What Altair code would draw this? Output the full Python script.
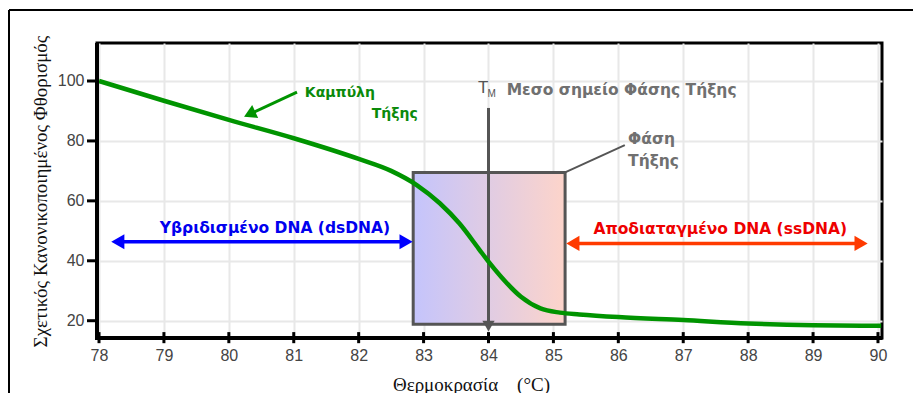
import altair as alt
import pandas as pd

# ---------------- data ----------------
temp = [78, 79, 80, 81, 82, 82.5, 82.9, 83.25, 83.55, 83.85, 84, 84.2, 84.5, 84.8,
        85.1, 85.4, 86, 87, 88, 89, 90.05]
fluor = [100, 93.4, 87.0, 80.9, 74.0, 70.0, 65.2, 59.2, 52.5, 44, 39.7, 34.5, 28, 24.1,
         22.7, 22.1, 21.2, 20.2, 19.1, 18.5, 18.3]
x_ticks = list(range(78, 91))
y_ticks = [20, 40, 60, 80, 100]
x_domain = [77.969, 90.062]
y_domain = [14.23, 112.68]

phase_box_x = [82.84, 85.18]
phase_box_y = [69.5, 18.8]
tm_value = 84.0
tm_line_y = [91.0, 19.5]
tm_head_y = 18.2

ds_arrow_x = [78.29, 82.73]
ds_arrow_y = 46.35
ss_arrow_x = [85.30, 89.74]
ss_arrow_y = 45.8
curve_arrow_x = [81.05, 80.32]
curve_arrow_y = [96.3, 88.95]
phase_leader_x = [85.18, 86.1]
phase_leader_y = [69.5, 78.6]

green_labels = ["Καμπύλη", "Τήξης"]
green_label_x = [81.17, 82.20]
green_label_y = [96.0, 89.0]
gray_labels = ["Μεσο σημείο Φάσης Τήξης", "Φάση", "Τήξης"]
gray_label_x = [84.28, 86.15, 86.15]
gray_label_y = [97.0, 80.6, 73.3]
ds_label = "Υβριδισμένο DNA (dsDNA)"
ds_label_pos = [80.71, 50.9]
ss_label = "Αποδιαταγμένο DNA (ssDNA)"
ss_label_pos = [87.57, 50.6]
tm_label_pos = [83.838, 97.66]
tm_sub_pos = [83.985, 95.6]

x_title = "Θερμοκρασία\u00a0\u00a0\u00a0\u00a0(°C)"
y_title = "Σχετικός Κανονικοποιημένος Φθορισμός"

# ---------------- helpers ----------------
xs = alt.Scale(domain=x_domain, nice=False, zero=False)
ys = alt.Scale(domain=y_domain, nice=False, zero=False)

x_axis = alt.Axis(values=x_ticks, format="d", title=x_title, ticks=False, labelPadding=9,
                  titleX=374, titleY=46)
y_axis = alt.Axis(values=y_ticks, title=y_title, ticks=False, labelPadding=13,
                  titleX=-57, titleY=148, titleAngle=270)


def X(f="x"):
    return alt.X(f"{f}:Q", scale=xs, axis=x_axis)


def Y(f="y"):
    return alt.Y(f"{f}:Q", scale=ys, axis=y_axis)


BOLD = "DejaVu Sans"

curve_df = pd.DataFrame({"x": temp, "y": fluor})

# tick marks: short rules just outside the plot, in data space
y_tick_df = pd.DataFrame({"y": y_ticks, "x": [77.815] * len(y_ticks),
                          "x2": [x_domain[0]] * len(y_ticks)})
y_tick_marks = alt.Chart(y_tick_df).mark_rule(color="black", strokeWidth=3).encode(
    x=X(), x2="x2:Q", y=Y())
x_tick_df = pd.DataFrame({"x": x_ticks, "y": [16.2] * len(x_ticks),
                          "y2": [12.5] * len(x_ticks)})
x_tick_marks = alt.Chart(x_tick_df).mark_rule(color="black", strokeWidth=3).encode(
    x=X(), y=Y(), y2="y2:Q")

gradient = alt.Gradient(gradient="linear",
                        stops=[alt.GradientStop(color="#c4c4fc", offset=0),
                               alt.GradientStop(color="#fdd4ca", offset=1)],
                        x1=0, x2=1, y1=0, y2=0)
box = alt.Chart(pd.DataFrame({"x": [phase_box_x[0]], "x2": [phase_box_x[1]],
                              "y": [phase_box_y[0]], "y2": [phase_box_y[1]]})).mark_rect(
    fill=gradient, stroke="#555555", strokeWidth=3).encode(
    x=X(), x2="x2:Q", y=Y(), y2="y2:Q")

leader = alt.Chart(pd.DataFrame({"x": phase_leader_x, "y": phase_leader_y})).mark_line(
    color="#555555", strokeWidth=2).encode(x=X(), y=Y())

tm_line = alt.Chart(pd.DataFrame({"x": [tm_value], "y": [tm_line_y[0]], "y2": [tm_line_y[1]]})).mark_rule(
    color="#555555", strokeWidth=3).encode(x=X(), y=Y(), y2="y2:Q")
tm_head = alt.Chart(pd.DataFrame({"x": [tm_value], "y": [tm_head_y]})).mark_point(
    shape="triangle-down", filled=True, color="#555555", opacity=1, size=150).encode(x=X(), y=Y())

curve = alt.Chart(curve_df).mark_line(color="#009400", strokeWidth=4.5,
                                      interpolate="monotone").encode(x=X(), y=Y())


def double_arrow(xv, yv, color):
    ln = alt.Chart(pd.DataFrame({"x": [xv[0]], "x2": [xv[1]], "y": [yv]})).mark_rule(
        color=color, strokeWidth=3.5).encode(x=X(), x2="x2:Q", y=Y())
    heads = alt.Chart(pd.DataFrame({"x": xv, "y": [yv, yv],
                                    "s": ["triangle-left", "triangle-right"]})).mark_point(
        filled=True, color=color, opacity=1, size=230).encode(
        x=X(), y=Y(), shape=alt.Shape("s:N", scale=None, legend=None))
    return ln + heads


ds = double_arrow(ds_arrow_x, ds_arrow_y, "#0000ff")
ss = double_arrow(ss_arrow_x, ss_arrow_y, "#ff3a00")

g_arrow_line = alt.Chart(pd.DataFrame({"x": curve_arrow_x, "y": curve_arrow_y})).mark_line(
    color="#009400", strokeWidth=3).encode(x=X(), y=Y())
g_arrow_head = alt.Chart(pd.DataFrame({"x": [curve_arrow_x[1]], "y": [curve_arrow_y[1]]})).mark_point(
    shape="triangle-up", angle=245, filled=True, color="#009400", opacity=1, size=200).encode(x=X(), y=Y())


def texts(labels, xv, yv, color, size=15.5, align="left", weight="bold", font=BOLD):
    return alt.Chart(pd.DataFrame({"x": xv, "y": yv, "t": labels})).mark_text(
        align=align, baseline="middle", font=font, fontSize=size, fontWeight=weight,
        color=color).encode(x=X(), y=Y(), text="t:N")


green_txt = texts(green_labels, green_label_x, green_label_y, "#0a8a0a", size=14)
gray_txt = texts(gray_labels, gray_label_x, gray_label_y, "#707070")
ds_txt = texts([ds_label], [ds_label_pos[0]], [ds_label_pos[1]], "#0000ee", align="center")
ss_txt = texts([ss_label], [ss_label_pos[0]], [ss_label_pos[1]], "#ee0000", align="center")
tm_txt = texts(["T"], [tm_label_pos[0]], [tm_label_pos[1]], "#555555", size=17,
               weight="normal", font="Liberation Sans")
tm_sub = texts(["M"], [tm_sub_pos[0]], [tm_sub_pos[1]], "#555555", size=10,
               weight="normal", font="Liberation Sans")

# outer frame (decoration)
frame_top = alt.Chart(curve_df).mark_rule(color="black", strokeWidth=2).encode(
    x=alt.value(-88), x2=alt.value(830), y=alt.value(-33))
frame_left = alt.Chart(curve_df).mark_rule(color="black", strokeWidth=2).encode(
    x=alt.value(-88), y=alt.value(-33), y2=alt.value(400))
# thicker left / bottom axis lines
axis_left = alt.Chart(curve_df).mark_rule(color="black", strokeWidth=4).encode(
    x=alt.value(0), y=alt.value(0), y2=alt.value(297))
axis_bottom = alt.Chart(curve_df).mark_rule(color="black", strokeWidth=4).encode(
    x=alt.value(-2), x2=alt.value(785), y=alt.value(295))

chart = alt.layer(
    box, leader, tm_line, curve, tm_head,
    ds, ss, g_arrow_line, g_arrow_head,
    green_txt, gray_txt, ds_txt, ss_txt, tm_txt, tm_sub,
    axis_left, axis_bottom, y_tick_marks, x_tick_marks,
    frame_top, frame_left,
).properties(
    width=785, height=295,
    autosize=alt.AutoSizeParams(type="none"),
    padding={"left": 89, "top": 35, "right": 31, "bottom": 55},
).configure_view(
    stroke="black", strokeWidth=3
).configure_axis(
    grid=True, gridColor="#e8e8e8", gridWidth=2,
    domain=True, domainColor="black", domainWidth=3,
    labelFont="Liberation Sans", labelFontSize=16, labelColor="#444",
    titleFont="Liberation Serif", titleFontSize=19, titleFontWeight="normal",
    titleColor="#111", titleBaseline="middle", titleAlign="center",
)

chart.save("out.html", embed_options={"renderer": "svg", "actions": False})
